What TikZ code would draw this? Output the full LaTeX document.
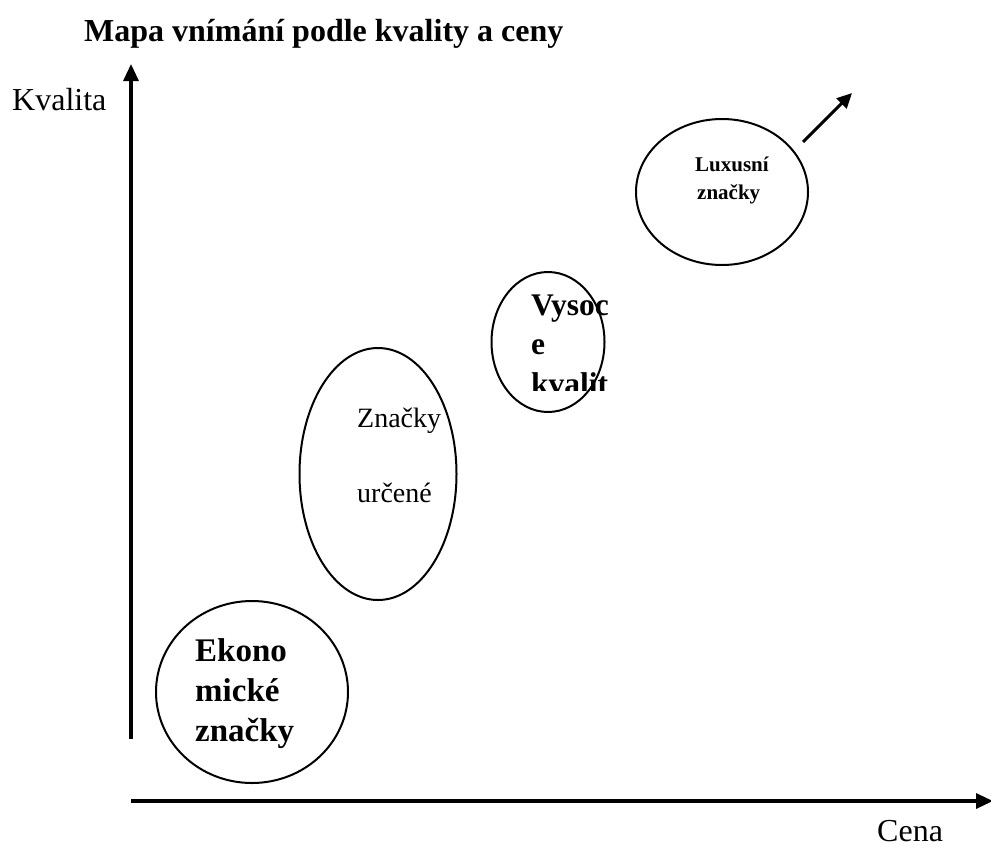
\documentclass[tikz,border=0pt]{standalone}
\usepackage{fontspec}
\setmainfont{Liberation Serif}
\usetikzlibrary{shapes.geometric,arrows.meta}
\begin{document}
\begin{tikzpicture}[x=1pt,y=-1pt,
  bubble/.style={draw,ellipse,line width=2pt,inner sep=0pt},
  axis/.style={line width=3.2pt,-{Triangle[length=17pt,width=15pt]}},
  lbl/.style={anchor=base west,inner sep=0pt,align=left},
  bigb/.style={lbl,font=\fontsize{33}{38}\selectfont\bfseries},
]
\useasboundingbox (0,0) rectangle (991,847);
% title and axis labels
\node[lbl,font=\fontsize{32}{36}\selectfont\bfseries] (title) at (84,41) {Mapa vnímání podle kvality a ceny};
\node[lbl,font=\fontsize{32}{36}\selectfont] (kval) at (12,110) {Kvalita};
\node[lbl,font=\fontsize{32}{36}\selectfont] (cena) at (877,841) {Cena};
% axes
\coordinate (y0) at (131,739);
\coordinate (y1) at (131,64);
\coordinate (x0) at (131,801);
\coordinate (x1) at (993,801);
\draw[axis] (y0) -- (y1);
\draw[axis] (x0) -- (x1);
% ellipses
\node[bubble,minimum width=192pt,minimum height=182pt] (eko) at (252,692) {};
\node[bubble,minimum width=157pt,minimum height=252pt] (urc) at (378,474) {};
\node[bubble,minimum width=113pt,minimum height=140pt] (vys) at (548,342) {};
\node[bubble,minimum width=172pt,minimum height=146pt] (lux) at (722,192) {};
% texts
\node[bigb] (e1) at (195,661) {Ekono};
\node[bigb] (e2) at (195,701) {mické};
\node[bigb] (e3) at (195,741) {značky};
\node[lbl,font=\fontsize{28}{32}\selectfont] (u1) at (357,427) {Značky};
\node[lbl,font=\fontsize{28}{32}\selectfont] (u2) at (357,502) {určené};
\begin{scope}[font=\fontsize{31.5}{36}\selectfont\bfseries]
\node[lbl] (v1) at (531,315) {Vysoc};
\node[lbl] (v2) at (531,354) {e};
\begin{scope}
\clip (480,350) rectangle (630,390);
\node[lbl] (v3) at (531,394) {kvalit};
\end{scope}
\end{scope}
\node[lbl,font=\fontsize{21}{24}\selectfont\bfseries] (l1) at (695,171) {Luxusní};
\node[lbl,font=\fontsize{21}{24}\selectfont\bfseries] (l2) at (697,199) {značky};
% arrow
\coordinate (a0) at (803,142);
\coordinate (a1) at (852,93);
\draw[line width=3pt,-{Triangle[length=15pt,width=14pt]}] (a0) -- (a1);
\end{tikzpicture}
\end{document}
